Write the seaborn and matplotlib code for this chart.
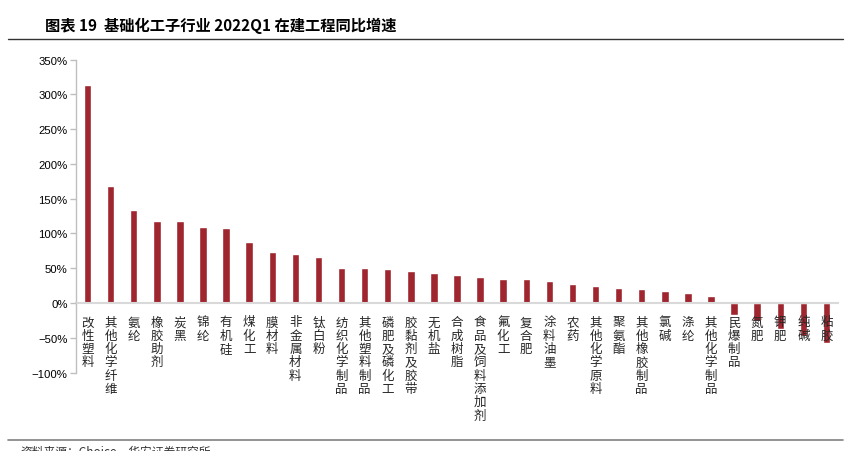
import matplotlib
matplotlib.use("Agg")
import matplotlib.pyplot as plt
from matplotlib.ticker import FuncFormatter
import seaborn as sns

# --- data ---
categories = [
    "改性塑料", "其他化学纤维", "氨纶", "橡胶助剂", "炭黑", "锦纶", "有机硅",
    "煤化工", "膜材料", "非金属材料", "钛白粉", "纺织化学制品", "其他塑料制品",
    "磷肥及磷化工", "胶黏剂及胶带", "无机盐", "合成树脂", "食品及饲料添加剂",
    "氟化工", "复合肥", "涂料油墨", "农药", "其他化学原料", "聚氨酯",
    "其他橡胶制品", "氯碱", "涤纶", "其他化学制品", "民爆制品", "氮肥",
    "钾肥", "纯碱", "粘胶",
]
growth = [
    313, 169, 134, 118, 118, 110, 108, 88, 73, 71, 66, 51, 50, 49, 46, 43,
    40, 38, 35, 35, 31, 28, 25, 22, 20, 17, 15, 10, -17, -26, -38, -48, -57,
]
y_ticks = [-100, -50, 0, 50, 100, 150, 200, 250, 300, 350]

title = "图表 19  基础化工子行业 2022Q1 在建工程同比增速"
source = "资料来源：Choice，华安证券研究所"

BAR = "#9F252E"
AXIS_GREY = "#BFBFBF"
CJK = ["Noto Sans CJK SC", "DejaVu Sans"]

sns.set_theme(style="white")
plt.rcParams["font.family"] = ["Liberation Sans", "Noto Sans CJK SC", "DejaVu Sans"]
plt.rcParams["axes.unicode_minus"] = True

fig = plt.figure(figsize=(8.51, 4.52), dpi=100)
ax = fig.add_axes([76 / 851, 1 - 373.5 / 452, 762 / 851, (373.5 - 60.7) / 452])

sns.barplot(x=categories, y=growth, color=BAR, saturation=1, width=0.32, ax=ax)
# labels sit on top of the negative bars, as in the reference
ax.set_axisbelow(False)

ax.set_xlim(-0.5, len(categories) - 0.5)
ax.set_ylim(y_ticks[0], y_ticks[-1])
ax.set_yticks(y_ticks)
ax.yaxis.set_major_formatter(FuncFormatter(lambda v, pos: f"{v:.0f}%".replace("-", "\u2212")))
ax.tick_params(axis="y", direction="out", length=4, width=1, color=AXIS_GREY,
               labelsize=8.2, pad=2, left=True, labelcolor="#000000")

# category labels stacked vertically, hanging from the zero line
ax.spines["bottom"].set_position(("data", 0))
ax.spines["bottom"].set_color("#D9D9D9")
ax.spines["bottom"].set_linewidth(1.5)
ax.set_xticks(range(len(categories)))
ax.set_xticklabels(["\n".join(c) for c in categories], family=CJK, fontsize=9,
                   linespacing=1.03, va="top", ha="center")
ax.tick_params(axis="x", length=0, pad=9)

ax.spines["left"].set_color(AXIS_GREY)
ax.spines["left"].set_linewidth(1)
ax.spines["top"].set_visible(False)
ax.spines["right"].set_visible(False)
ax.set_xlabel("")
ax.set_ylabel("")

# header and footer
fig.text(45 / 851, 1 - 26 / 452, title, family=CJK, fontsize=11, fontweight="bold",
         va="center", ha="left", color="#000000")
fig.add_artist(plt.Line2D([8 / 851, 843 / 851], [1 - 39.5 / 452] * 2, color="#333333", lw=1))
fig.add_artist(plt.Line2D([8 / 851, 843 / 851], [1 - 441 / 452] * 2, color="#808080", lw=1.2))
fig.text(20 / 851, 1 - 446 / 452, source, family=CJK, fontsize=8.5, va="top", ha="left",
         color="#333333")

fig.savefig("out.png", dpi=100, facecolor="white")
plt.close(fig)
